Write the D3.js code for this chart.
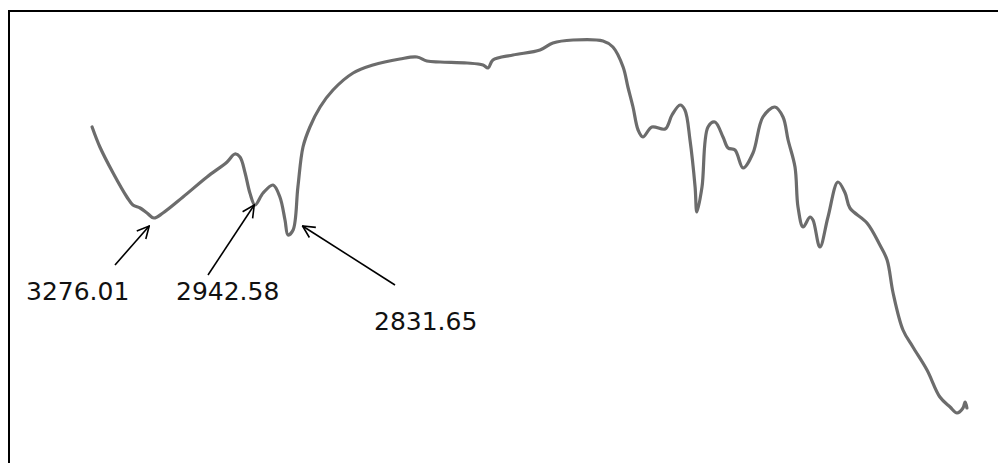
<!DOCTYPE html>
<html>
<head>
<meta charset="utf-8">
<script src="https://cdn.jsdelivr.net/npm/d3@7"></script>
<style>
  body { margin: 0; background: #fff; }
  svg { display: block; }
  .lbl { font-family: "DejaVu Sans", sans-serif; font-size: 25px; fill: #111; }
</style>
</head>
<body>
<div id="chart"></div>
<script>
// wavenumber (cm-1) and transmittance (%)
var wavenumber = [3483, 3457, 3413, 3367, 3347, 3323, 3300, 3277, 3247, 3180, 3100, 3033, 3007, 2990, 2973, 2957, 2940,
  2913, 2880, 2857, 2840, 2830, 2813, 2797, 2780, 2757, 2723, 2680, 2613, 2547, 2457, 2400, 2367, 2323, 2233, 2180,
  2163, 2147, 2080, 1990, 1947, 1880, 1780, 1747, 1713, 1697, 1680, 1663, 1647, 1617, 1573, 1550, 1523, 1507, 1490,
  1473, 1467, 1450, 1430, 1407, 1380, 1363, 1340, 1313, 1280, 1247, 1207, 1180, 1163, 1140, 1130, 1113, 1090, 1080,
  1057, 1030, 997, 973, 957, 900, 857, 833, 813, 780, 747, 700, 657, 623, 600, 580, 573, 567];
var transmittance = [75.75, 70.75, 64.25, 58.25, 56.25, 55.5, 54.25, 53, 54.25, 58.25, 63.25, 67, 69, 68.25, 64.25, 59.25, 56.25,
  59.25, 61.25, 58.25, 52.5, 48.75, 50, 60.75, 70.75, 75.75, 80.75, 85, 89.25, 91.25, 92.75, 93.25, 92.25, 92, 91.75, 91.25,
  90.5, 92.5, 93.75, 95, 96.75, 97.5, 97.25, 95.75, 90.75, 85.75, 80.75, 75, 73.25, 75.75, 75.25, 78.75, 81.25, 80, 72.5,
  60.75, 54.5, 60.75, 75.75, 77, 73.25, 70.5, 70, 65.5, 69.25, 78.25, 80.75, 78.25, 72.5, 65.75, 55.75, 50.75, 53.25, 52.5,
  45.75, 53.25, 62, 59.25, 55.5, 51.75, 46.25, 42.5, 34.25, 25, 20.75, 15, 8.25, 5.75, 4.25, 5.5, 7, 5.5];

// labelled peaks
var peakLabels = ["3276.01", "2942.58", "2831.65"];
var peakT = [53, 56.25, 48.75];

var W = 998, H = 463;
var svg = d3.select("#chart").append("svg").attr("width", W).attr("height", H);

var x = d3.scaleLinear().domain([3500, 500]).range([87, 987]);
var y = d3.scaleLinear().domain([0, 100]).range([430, 30]);

// frame (only top and left edges show)
svg.append("line").attr("x1", 9).attr("x2", 9).attr("y1", 10).attr("y2", H)
  .attr("stroke", "#000").attr("stroke-width", 2);
svg.append("line").attr("x1", 8).attr("x2", W).attr("y1", 11).attr("y2", 11)
  .attr("stroke", "#000").attr("stroke-width", 2);

var pts = wavenumber.map(function(w, i){ return [w, transmittance[i]]; });
var line = d3.line()
  .x(function(d){ return x(d[0]); })
  .y(function(d){ return y(d[1]); })
  .curve(d3.curveCatmullRom.alpha(0.5));

svg.append("path").datum(pts)
  .attr("d", line)
  .attr("fill", "none")
  .attr("stroke", "#6c6c6c")
  .attr("stroke-width", 3.2)
  .attr("stroke-linejoin", "round")
  .attr("stroke-linecap", "round");

svg.append("defs").append("marker")
  .attr("id", "arr")
  .attr("viewBox", "0 0 14 14")
  .attr("refX", 13).attr("refY", 7)
  .attr("markerWidth", 14).attr("markerHeight", 14)
  .attr("markerUnits", "userSpaceOnUse")
  .attr("orient", "auto")
  .append("path")
  .attr("d", "M1,1 L13,7 L1,13")
  .attr("fill", "none")
  .attr("stroke", "#000")
  .attr("stroke-width", 1.6);

// arrow tip offset from peak, tail, label position
var tipOff = [[-5, 8], [0, 0], [15, -9]];
var tail = [[115, 265], [208, 275], [395, 285]];
var txt = [[26, 300], [176, 300], [374, 330]];

peakLabels.forEach(function(p, i){
  var px = x(+p), py = y(peakT[i]);
  svg.append("line")
    .attr("x1", tail[i][0]).attr("y1", tail[i][1])
    .attr("x2", px + tipOff[i][0]).attr("y2", py + tipOff[i][1])
    .attr("stroke", "#000").attr("stroke-width", 1.6)
    .attr("marker-end", "url(#arr)");
  svg.append("text").attr("class", "lbl")
    .attr("x", txt[i][0]).attr("y", txt[i][1])
    .text(p);
});
</script>
</body>
</html>
